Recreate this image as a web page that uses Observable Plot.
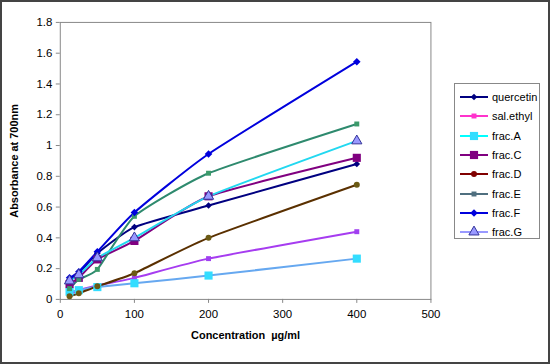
<!DOCTYPE html>
<html>
<head>
<meta charset="utf-8">
<script src="https://cdn.jsdelivr.net/npm/d3@7"></script>
<script src="https://cdn.jsdelivr.net/npm/@observablehq/plot@0.6"></script>
<style>
  html, body { margin: 0; padding: 0; background: #fff; }
  #wrap { position: relative; width: 550px; height: 364px; box-sizing: border-box; border: 2px solid #444; overflow: hidden; font-family: "Liberation Sans", Arial, sans-serif; }
  #chart { position: absolute; left: -2px; top: -2px; }
  #legend { position: absolute; left: 452px; top: 81px; width: 86px; height: 156px; border: 1px solid #888; background: #fff; box-sizing: border-box; }
  .item { position: absolute; left: 4px; height: 16px; display: flex; align-items: center; font-size: 11px; color: #000; }
  .item svg { margin-right: 3px; }
</style>
</head>
<body>
<div id="wrap"><div id="chart"></div><div id="legend"></div></div>
<script>
// Data
const conc = [12.5, 25, 50, 100, 200, 400];
const seriesNames = ["quercetin", "sal.ethyl", "frac.A", "frac.C", "frac.D", "frac.E", "frac.F", "frac.G"];
const quercetin = [0.13, 0.17, 0.30, 0.47, 0.61, 0.88];
const salEthyl  = [0.03, 0.06, 0.09, 0.14, 0.265, 0.44];
const fracA     = [0.05, 0.06, 0.08, 0.105, 0.155, 0.265];
const fracC     = [0.10, 0.14, 0.26, 0.38, 0.67, 0.92];
const fracD     = [0.02, 0.04, 0.085, 0.17, 0.40, 0.745];
const fracE     = [0.07, 0.13, 0.195, 0.54, 0.82, 1.14];
const fracF     = [0.14, 0.18, 0.31, 0.565, 0.945, 1.545];
const fracG     = [0.12, 0.16, 0.27, 0.40, 0.67, 1.03];
const xTicks = [0, 100, 200, 300, 400, 500];
const yTicks = [0, 0.2, 0.4, 0.6, 0.8, 1, 1.2, 1.4, 1.6, 1.8];

const values = [quercetin, salEthyl, fracA, fracC, fracD, fracE, fracF, fracG];

// Styles
const styles = {
  "quercetin": {line: "#000080", fill: "#000080", stroke: "none", symbol: "diamond2", r: 3},
  "sal.ethyl": {line: "#A63CF0", fill: "#A040F0", stroke: "none", symbol: "square", r: 2.8, lg: "#FF33CC"},
  "frac.A":    {line: "#66A8F0", fill: "#33DDFF", stroke: "none", symbol: "square", r: 4.6, lg: "#00FFFF"},
  "frac.C":    {line: "#800080", fill: "#800080", stroke: "none", symbol: "square", r: 4.6},
  "frac.D":    {line: "#5A3000", fill: "#6B5A14", stroke: "none", symbol: "circle", r: 3, lg: "#800000"},
  "frac.E":    {line: "#2E8A6E", fill: "#3C9A6A", stroke: "none", symbol: "square", r: 2.8, lg: "#4F6F7F"},
  "frac.F":    {line: "#0000DD", fill: "#0000DD", stroke: "none", symbol: "diamond2", r: 3.4},
  "frac.G":    {line: "#22D8F0", fill: "#9999FF", stroke: "#333399", symbol: "triangle", r: 3.8, lg: "#9999FF"}
};

const rows = [];
seriesNames.forEach((name, i) => {
  conc.forEach((c, j) => rows.push({series: name, x: c, y: values[i][j]}));
});

const marks = [Plot.frame({stroke: "#888"})];
seriesNames.forEach(name => {
  const s = styles[name];
  const d = rows.filter(r => r.series === name);
  marks.push(Plot.line(d, {x: "x", y: "y", stroke: s.line, strokeWidth: 2, curve: "cardinal", tension: 0.5}));
});
seriesNames.forEach(name => {
  const s = styles[name];
  const d = rows.filter(r => r.series === name);
  marks.push(Plot.dot(d, {x: "x", y: "y", symbol: () => s.symbol, fill: s.fill, stroke: s.stroke, strokeWidth: 1, r: s.r}));
});

marks.push(Plot.axisX({ticks: xTicks, tickSize: 4, tickPadding: 6, stroke: "#888", fontSize: 11.5, label: "Concentration  µg/ml", labelAnchor: "center", labelArrow: "none", labelOffset: 40}));
marks.push(Plot.axisY({ticks: yTicks, tickSize: 4, tickPadding: 4, stroke: "#888", fontSize: 11.5, tickFormat: d => String(Math.round(d * 10) / 10), label: "Absorbance at 700nm", labelAnchor: "center", labelArrow: "none", labelOffset: 50}));

const chart = Plot.plot({
  width: 550,
  height: 364,
  marginLeft: 60,
  marginRight: 118,
  marginTop: 22,
  marginBottom: 64,
  style: {fontFamily: "'Liberation Sans', Arial, sans-serif", fontSize: "11.5px", color: "#000", background: "transparent"},
  x: {domain: [0, 500]},
  y: {domain: [0, 1.8]},
  symbol: {type: "identity"},
  marks
});
chart.querySelectorAll('[aria-label$="axis label"] text, [aria-label$="axis label"]').forEach(el => {
  el.setAttribute("font-weight", "bold");
  el.setAttribute("font-size", "11px");
});
document.getElementById("chart").appendChild(chart);

// Legend
const legend = document.getElementById("legend");
seriesNames.forEach((name, i) => {
  const s = styles[name];
  const item = document.createElement("div");
  item.className = "item";
  item.style.top = (5 + i * 19.3) + "px";
  const sw = d3.create("svg").attr("width", 30).attr("height", 12);
  sw.append("line").attr("x1", 1).attr("x2", 29).attr("y1", 6).attr("y2", 6).attr("stroke", s.lg || s.line).attr("stroke-width", 2);
  const sym = {diamond2: d3.symbolDiamond2, square: d3.symbolSquare, circle: d3.symbolCircle, triangle: d3.symbolTriangle}[s.symbol];
  const size = Math.PI * s.r * s.r;
  sw.append("path").attr("d", d3.symbol(sym, size)()).attr("transform", "translate(15,6)")
    .attr("fill", s.lg && name !== "frac.G" && name !== "frac.A" ? s.lg : s.fill).attr("stroke", s.stroke);
  item.appendChild(sw.node());
  const t = document.createElement("span");
  t.textContent = name;
  item.appendChild(t);
  legend.appendChild(item);
});
</script>
</body>
</html>
